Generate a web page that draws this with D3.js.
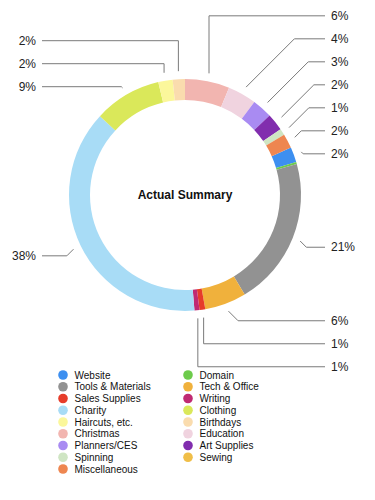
<!DOCTYPE html>
<html>
<head>
<meta charset="utf-8">
<script src="https://cdn.jsdelivr.net/npm/d3@7"></script>
<style>
    body { margin: 0; background: #fff; font-family: "Liberation Sans", Arial, Helvetica, sans-serif; }
</style>
</head>
<body>
<div id="chart"></div>
<script>
// data, in the order the chart draws it (clockwise)
const categories = ["Website", "Domain", "Tools & Materials", "Tech & Office", "Sales Supplies", "Writing",
    "Charity", "Clothing", "Haircuts, etc.", "Birthdays", "Christmas", "Education", "Planners/CES",
    "Art Supplies", "Spinning", "Sewing", "Miscellaneous"];
const values = [2.1, 0.3, 20.7, 5.8, 0.8, 0.7, 38.2, 9.4, 2.0, 1.7, 6.2, 4.0, 2.8, 2.4, 0.9, 0, 2.0];
const colors = ["#3d8ff0", "#6dcb4b", "#929292", "#f0b13c", "#e63c2a", "#c02a72", "#a8dcf6", "#dae85a",
    "#fbf79b", "#fadcae", "#f2b5b0", "#f0d3df", "#a98bf2", "#812dae", "#cfe5c3", "#f0be48", "#ee8650"];
const chartTitle = "Actual Summary";

// layout
const width = 375, height = 500;
const cx = 185, cy = 195;
const outerR = 116, innerR = 95;

const svg = d3.select("#chart").append("svg")
    .attr("width", width)
    .attr("height", height);

const color = d3.scaleOrdinal().domain(categories).range(colors);
const total = d3.sum(values);

// rotate so Christmas starts at 12 o'clock
const firstIdx = categories.indexOf("Christmas");
const rot = 2 * Math.PI * d3.sum(values.slice(firstIdx)) / total;

const pie = d3.pie()
    .sort(null)
    .value(i => values[i])
    .startAngle(rot)
    .endAngle(rot + 2 * Math.PI);

const arcs = pie(d3.range(categories.length)).filter(d => values[d.data] > 0);

const arc = d3.arc().innerRadius(innerR).outerRadius(outerR);

const ring = svg.append("g").attr("transform", `translate(${cx},${cy})`);
ring.selectAll("path.slice")
    .data(arcs)
    .enter().append("path")
    .attr("class", "slice")
    .attr("d", arc)
    .attr("fill", d => color(categories[d.data]));

// title
svg.append("text")
    .attr("x", cx)
    .attr("y", cy)
    .attr("text-anchor", "middle")
    .attr("dominant-baseline", "central")
    .attr("font-size", 12)
    .attr("font-weight", "bold")
    .attr("fill", "#111")
    .text(chartTitle);

// percentage labels with leader lines
const labels = arcs
    .filter(d => values[d.data] / total * 100 >= 0.5)
    .map(d => {
        let a = ((d.startAngle + d.endAngle) / 2) % (2 * Math.PI);
        return {
            a: a,
            side: Math.sin(a) >= 0 ? 1 : -1,
            upper: Math.cos(a) > 0,
            x0: cx + 124 * Math.sin(a),
            y0: cy - 124 * Math.cos(a),
            y: cy - 130 * Math.cos(a) + 4,
            text: Math.round(values[d.data] / total * 100) + "%"
        };
    });

// push overlapping labels away from the middle
const gap = 23;
[1, -1].forEach(side => {
    let up = labels.filter(l => l.side === side && l.upper).sort((p, q) => q.y - p.y);
    up.forEach((l, i) => { if (i > 0) l.y = Math.min(l.y, up[i - 1].y - gap); });
    let down = labels.filter(l => l.side === side && !l.upper).sort((p, q) => p.y - q.y);
    down.forEach((l, i) => { if (i > 0) l.y = Math.max(l.y, down[i - 1].y + gap); });
});

labels.forEach(l => {
    let fromVert = Math.min(l.a, Math.abs(Math.PI - l.a), 2 * Math.PI - l.a);
    l.ex = fromVert < 15 * Math.PI / 180 ? l.x0 : l.x0 + l.side * Math.abs(l.y - l.y0);
    l.lx = l.side > 0 ? 325 : 42;
});

svg.selectAll("path.leader")
    .data(labels)
    .enter().append("path")
    .attr("class", "leader")
    .attr("d", l => `M${l.x0},${l.y0}L${l.ex},${l.y}L${l.lx},${l.y}`)
    .attr("fill", "none")
    .attr("stroke", "#7a7a7a")
    .attr("stroke-width", 1);

svg.selectAll("text.pct")
    .data(labels)
    .enter().append("text")
    .attr("class", "pct")
    .attr("x", l => l.side > 0 ? 331 : 36)
    .attr("y", l => l.y)
    .attr("text-anchor", l => l.side > 0 ? "start" : "end")
    .attr("dominant-baseline", "central")
    .attr("font-size", 12)
    .attr("fill", "#222")
    .text(l => l.text);

// legend, two columns
const legend = svg.append("g").attr("class", "legend");
const rowH = 11.75;
const items = legend.selectAll("g.item")
    .data(categories)
    .enter().append("g")
    .attr("class", "item")
    .attr("transform", (d, i) => `translate(${i % 2 === 0 ? 63 : 188},${375 + Math.floor(i / 2) * rowH})`);

items.append("circle")
    .attr("r", 4.8)
    .attr("fill", d => color(d));

items.append("text")
    .attr("x", 11.5)
    .attr("dominant-baseline", "central")
    .attr("font-size", 10)
    .attr("fill", "#111")
    .text(d => d);
</script>
</body>
</html>
